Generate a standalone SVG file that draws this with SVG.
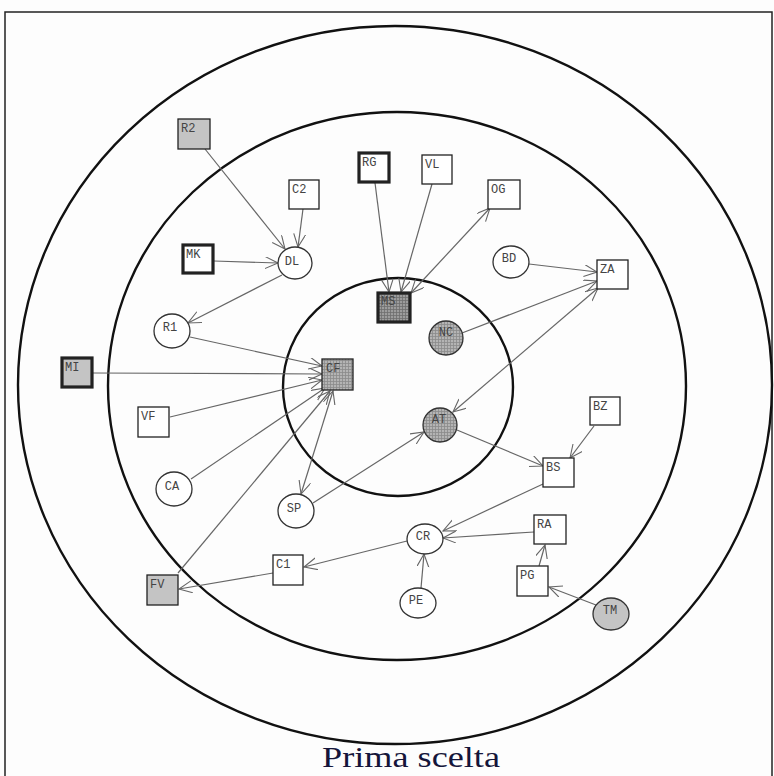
<svg xmlns="http://www.w3.org/2000/svg" width="774" height="776" viewBox="0 0 774 776">
<defs>
<style>
.ring{fill:none;stroke:#111;stroke-width:2.4}
.box{fill:#fff;stroke:#222;stroke-width:1.3}
.circ{fill:#fff;stroke:#333;stroke-width:1.3}
.thick{stroke-width:3.2}
.gray{fill:#c4c4c4}
.hatch{fill:url(#hatch)}
.dhatch{fill:url(#dhatch)}
.lbl{font-family:"Liberation Mono","DejaVu Sans Mono",monospace;font-size:12px;fill:#444}
.clbl{font-family:"Liberation Mono","DejaVu Sans Mono",monospace;font-size:12px;fill:#444;text-anchor:middle}
.edge{fill:none;stroke:#666;stroke-width:1.2;marker-end:url(#arr)}
.both{marker-start:url(#arr)}
.title{font-family:"Liberation Serif","Times New Roman",serif;font-size:30px;fill:#15153a}
</style>
<pattern id="hatch" width="3" height="3" patternUnits="userSpaceOnUse">
<rect width="3" height="3" fill="#b4b4b4"/>
<path d="M0,0.5H3M0.5,0V3" stroke="#8a8a8a" stroke-width="0.8"/>
</pattern>
<pattern id="dhatch" width="3" height="3" patternUnits="userSpaceOnUse">
<rect width="3" height="3" fill="#9c9c9c"/>
<path d="M0,0.5H3M0.5,0V3" stroke="#6e6e6e" stroke-width="0.8"/>
</pattern>
<marker id="arr" markerUnits="userSpaceOnUse" markerWidth="16" markerHeight="14" refX="13" refY="6" orient="auto-start-reverse">
<path d="M0,0 L13,6 L0,12" fill="none" stroke="#666" stroke-width="1.1"/>
</marker>
</defs>
<rect x="0" y="0" width="774" height="776" fill="#fdfdfd"/>
<rect x="5" y="12" width="767" height="790" fill="none" stroke="#222" stroke-width="1.5"/>
<g id="rings">
<ellipse class="ring" cx="395" cy="385" rx="377" ry="359"/>
<ellipse class="ring" cx="397" cy="386" rx="289" ry="274"/>
<ellipse class="ring" cx="398" cy="387" rx="115" ry="109"/>
</g>
<g id="connectors">
<line class="edge" x1="205" y1="149" x2="285" y2="249"/>
<line class="edge" x1="303" y1="209" x2="298" y2="247"/>
<line class="edge" x1="214" y1="261" x2="278" y2="263"/>
<line class="edge" x1="282" y1="275" x2="188" y2="323"/>
<line class="edge" x1="375" y1="183" x2="389" y2="292"/>
<line class="edge" x1="432" y1="184" x2="401" y2="292"/>
<line class="edge both" x1="411" y1="293" x2="490" y2="208"/>
<line class="edge" x1="529" y1="264" x2="597" y2="272"/>
<line class="edge" x1="462" y1="333" x2="597" y2="281"/>
<line class="edge both" x1="598" y1="288" x2="453" y2="412"/>
<line class="edge" x1="190" y1="337" x2="322" y2="366"/>
<line class="edge" x1="93" y1="373" x2="322" y2="374"/>
<line class="edge" x1="170" y1="417" x2="322" y2="380"/>
<line class="edge" x1="191" y1="479" x2="325" y2="388"/>
<line class="edge" x1="178" y1="573" x2="330" y2="391"/>
<line class="edge both" x1="333" y1="391" x2="301" y2="494"/>
<line class="edge" x1="313" y1="503" x2="424" y2="432"/>
<line class="edge" x1="457" y1="430" x2="543" y2="466"/>
<line class="edge" x1="594" y1="426" x2="570" y2="458"/>
<line class="edge" x1="543" y1="484" x2="443" y2="531"/>
<line class="edge" x1="534" y1="532" x2="443" y2="538"/>
<line class="edge" x1="421" y1="588" x2="424" y2="554"/>
<line class="edge" x1="407" y1="541" x2="304" y2="567"/>
<line class="edge" x1="273" y1="573" x2="179" y2="589"/>
<line class="edge" x1="539" y1="566" x2="545" y2="545"/>
<line class="edge" x1="596" y1="605" x2="549" y2="587"/>
</g>
<g id="R2"><rect class="box gray" x="178" y="119" width="32" height="30" stroke-width="1.8"/><text class="lbl" x="181" y="132">R2</text></g>
<g id="C2"><rect class="box" x="289" y="180" width="30" height="29"/><text class="lbl" x="292" y="193">C2</text></g>
<g id="MK"><rect class="box thick" x="183" y="245" width="30" height="28"/><text class="lbl" x="186" y="258">MK</text></g>
<g id="DL"><ellipse class="circ" cx="295" cy="263" rx="17" ry="16"/><text class="clbl" x="292" y="265">DL</text></g>
<g id="RG"><rect class="box thick" x="359" y="153" width="30" height="29"/><text class="lbl" x="362" y="166">RG</text></g>
<g id="VL"><rect class="box" x="422" y="155" width="30" height="29"/><text class="lbl" x="425" y="168">VL</text></g>
<g id="OG"><rect class="box" x="488" y="180" width="32" height="29"/><text class="lbl" x="491" y="193">OG</text></g>
<g id="BD"><ellipse class="circ" cx="511" cy="262" rx="18" ry="16"/><text class="clbl" x="509" y="262">BD</text></g>
<g id="MS"><rect class="box thick dhatch" x="378" y="293" width="32" height="29"/><text class="lbl" x="381" y="305">MS</text></g>
<g id="NC"><ellipse class="circ hatch" cx="446" cy="338" rx="17" ry="17"/><text class="clbl" x="446" y="336">NC</text></g>
<g id="ZA"><rect class="box" x="597" y="260" width="31" height="29"/><text class="lbl" x="600" y="273">ZA</text></g>
<g id="R1"><ellipse class="circ" cx="172" cy="331" rx="18" ry="17"/><text class="clbl" x="170" y="331">R1</text></g>
<g id="MI"><rect class="box thick gray" x="62" y="358" width="30" height="29"/><text class="lbl" x="65" y="371">MI</text></g>
<g id="VF"><rect class="box" x="138" y="407" width="31" height="30"/><text class="lbl" x="141" y="420">VF</text></g>
<g id="CA"><ellipse class="circ" cx="174" cy="489" rx="18" ry="17"/><text class="clbl" x="172" y="490">CA</text></g>
<g id="CF"><rect class="box hatch" x="322" y="359" width="31" height="31"/><text class="lbl" x="326" y="372">CF</text></g>
<g id="AT"><ellipse class="circ hatch" cx="440" cy="425" rx="17" ry="17"/><text class="clbl" x="439" y="423">AT</text></g>
<g id="SP"><ellipse class="circ" cx="296" cy="511" rx="18" ry="17"/><text class="clbl" x="294" y="512">SP</text></g>
<g id="BZ"><rect class="box" x="590" y="397" width="30" height="28"/><text class="lbl" x="593" y="410">BZ</text></g>
<g id="BS"><rect class="box" x="543" y="458" width="31" height="29"/><text class="lbl" x="546" y="471">BS</text></g>
<g id="C1"><rect class="box" x="273" y="555" width="30" height="30"/><text class="lbl" x="276" y="568">C1</text></g>
<g id="FV"><rect class="box gray" x="147" y="575" width="31" height="30"/><text class="lbl" x="150" y="588">FV</text></g>
<g id="CR"><ellipse class="circ" cx="425" cy="539" rx="18" ry="15"/><text class="clbl" x="423" y="540">CR</text></g>
<g id="RA"><rect class="box" x="534" y="515" width="32" height="29"/><text class="lbl" x="537" y="528">RA</text></g>
<g id="PG"><rect class="box" x="517" y="566" width="31" height="30"/><text class="lbl" x="520" y="579">PG</text></g>
<g id="PE"><ellipse class="circ" cx="418" cy="603" rx="18" ry="15"/><text class="clbl" x="416" y="604">PE</text></g>
<g id="TM"><ellipse class="circ gray" cx="611" cy="614" rx="18" ry="16"/><text class="clbl" x="610" y="614">TM</text></g>
<text class="title" x="322" y="767" textLength="178" lengthAdjust="spacingAndGlyphs">Prima scelta</text>
</svg>
